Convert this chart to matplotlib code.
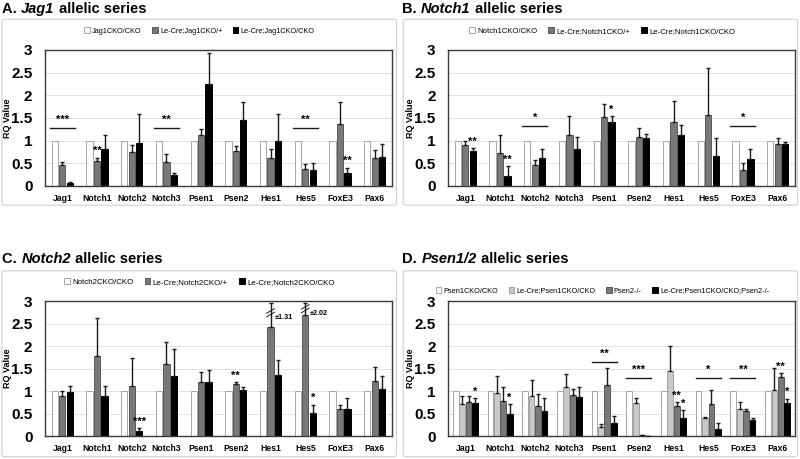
import matplotlib
matplotlib.use("Agg")
from matplotlib import pyplot as plt
from matplotlib.patches import FancyBboxPatch
import numpy as np

plt.rcParams["font.family"] = ["Liberation Sans", "DejaVu Sans"]

genes = ["Jag1", "Notch1", "Notch2", "Notch3", "Psen1", "Psen2", "Hes1", "Hes5", "FoxE3", "Pax6"]
ctrl = [1, 1, 1, 1, 1, 1, 1, 1, 1, 1]

# A. Jag1 allelic series
a_labels = ["Jag1CKO/CKO", "Le-Cre;Jag1CKO/+", "Le-Cre;Jag1CKO/CKO"]
a_het = [0.46, 0.56, 0.76, 0.52, 1.12, 0.78, 0.62, 0.38, 1.37, 0.62]
a_het_err = [0.06, 0.06, 0.15, 0.19, 0.14, 0.11, 0.19, 0.11, 0.48, 0.18]
a_ko = [0.07, 0.81, 0.94, 0.24, 2.26, 1.45, 1.00, 0.35, 0.28, 0.64]
a_ko_err = [0.02, 0.32, 0.64, 0.05, 0.67, 0.41, 0.58, 0.16, 0.12, 0.28]
a_sig = [(0, None, 1.28, "***"), (3, None, 1.28, "**"), (7, None, 1.28, "**"),
         (1, 1, 0.66, "**"), (8, 2, 0.44, "**")]

# B. Notch1 allelic series
b_labels = ["Notch1CKO/CKO", "Le-Cre;Notch1CKO/+", "Le-Cre;Notch1CKO/CKO"]
b_het = [0.91, 0.73, 0.46, 1.12, 1.53, 1.07, 1.42, 1.56, 0.36, 0.93]
b_het_err = [0.09, 0.40, 0.12, 0.43, 0.27, 0.21, 0.46, 1.04, 0.14, 0.13]
b_ko = [0.78, 0.22, 0.62, 0.82, 1.41, 1.05, 1.13, 0.67, 0.59, 0.93]
b_ko_err = [0.05, 0.21, 0.19, 0.27, 0.13, 0.09, 0.22, 0.38, 0.22, 0.05]
b_sig = [(0, 2, 0.86, "**"), (1, 2, 0.46, "**"), (2, None, 1.32, "*"),
         (4, 2, 1.57, "*"), (8, None, 1.32, "*")]

# C. Notch2 allelic series
c_labels = ["Notch2CKO/CKO", "Le-Cre;Notch2CKO/+", "Le-Cre;Notch2CKO/CKO"]
c_het = [0.90, 1.77, 1.12, 1.61, 1.19, 1.16, 2.42, 2.70, 0.60, 1.22]
c_het_err = [0.09, 0.86, 0.61, 0.49, 0.24, 0.04, 1.31, 2.02, 0.10, 0.32]
c_ko = [0.98, 0.88, 0.11, 1.33, 1.20, 1.02, 1.36, 0.52, 0.60, 1.05]
c_ko_err = [0.14, 0.23, 0.07, 0.61, 0.27, 0.08, 0.32, 0.18, 0.24, 0.28]
c_sig = [(2, 2, 0.21, "***"), (5, 1, 1.23, "**"), (7, 2, 0.73, "*")]

# D. Psen1/2 allelic series
d_labels = ["Psen1CKO/CKO", "Le-Cre;Psen1CKO/CKO", "Psen2-/-", "Le-Cre;Psen1CKO/CKO;Psen2-/-"]
d_p1 = [0.72, 0.96, 0.88, 1.10, 0.21, 0.73, 1.44, 0.40, 0.60, 1.02]
d_p1_err = [0.18, 0.38, 0.37, 0.27, 0.05, 0.12, 0.56, 0.02, 0.16, 0.50]
d_p2 = [0.75, 0.78, 0.67, 0.92, 1.13, 0.02, 0.67, 0.72, 0.55, 1.31]
d_p2_err = [0.13, 0.31, 0.27, 0.12, 0.38, 0.00, 0.09, 0.31, 0.05, 0.09]
d_dko = [0.74, 0.50, 0.55, 0.87, 0.30, 0.01, 0.40, 0.16, 0.36, 0.74]
d_dko_err = [0.10, 0.21, 0.29, 0.22, 0.14, 0.00, 0.18, 0.12, 0.05, 0.09]
d_sig = [(0, 3, 0.87, "*"), (1, 3, 0.74, "*"), (4, None, 1.64, "**"), (5, None, 1.28, "***"),
         (6, 2, 0.79, "**"), (6, 3, 0.61, "*"), (7, None, 1.28, "*"), (8, None, 1.28, "**"),
         (9, 2, 1.43, "**"), (9, 3, 0.86, "*")]

fig = plt.figure(figsize=(8, 4.59), dpi=100)

# light frames round each panel
for x0, y0 in [(0.0025, 0.553), (0.504, 0.553), (0.0025, 0.005), (0.504, 0.005)]:
    fig.patches.append(FancyBboxPatch((x0, y0), 0.493, 0.405, boxstyle="round,pad=0,rounding_size=0.004",
                                      transform=fig.transFigure, fc="none", ec="#d0d0d0", lw=0.8))


def make_legend(ax, n, leg_y, width_px, size=7.0):
    # shrink the font until the legend is as wide as in the original
    for _ in range(3):
        leg = ax.legend(loc="center", bbox_to_anchor=(0.445, leg_y), ncol=n, frameon=False,
                        prop={"size": size}, handlelength=0.75, handleheight=0.75,
                        handletextpad=0.3, columnspacing=1.4, borderaxespad=0, borderpad=0)
        fig.canvas.draw()
        w = leg.get_window_extent(fig.canvas.get_renderer()).width
        size = size * width_px / w
    return leg


def panel(rect, labels, series, errs, colors, edges, sigs, leg_y, leg_w, clip=None):
    ax = fig.add_axes(rect)
    x = np.arange(len(genes))
    n = len(series)
    w, step = (0.18, 0.215) if n == 3 else (0.165, 0.185)
    offs = (np.arange(n) - (n - 1) / 2) * step
    for i in range(n):
        ax.bar(x + offs[i], series[i], w, color=colors[i], edgecolor=edges[i], lw=0.7,
               label=labels[i], zorder=2)
        if errs[i] is not None:
            e = np.array(errs[i], dtype=float)
            v = np.array(series[i], dtype=float)
            if clip is not None:
                e = np.minimum(e, clip - v)
            ax.errorbar(x + offs[i], v, yerr=[np.zeros_like(e), e], fmt="none", ecolor="#1a1a1a",
                        elinewidth=1.0, capsize=1.6, capthick=1.0, zorder=3)
    for g, s, y, txt in sigs:
        if s is None:
            ax.plot([g - 0.36, g + 0.36], [y, y], color="#1a1a1a", lw=1.0, zorder=3)
            ax.text(g, y + 0.07, txt, ha="center", va="bottom", fontsize=8, fontweight="bold")
        else:
            ax.text(g + offs[s], y, txt, ha="center", va="bottom", fontsize=8, fontweight="bold")
    ax.set_xlim(-0.5, len(genes) - 0.5)
    ax.set_ylim(0, 3)
    ax.set_yticks([0, 0.5, 1, 1.5, 2, 2.5, 3])
    ax.set_yticklabels(["0", "0.5", "1", "1.5", "2", "2.5", "3"], fontweight="bold")
    ax.set_xticks(x)
    ax.set_xticklabels(genes, fontweight="bold")
    ax.tick_params(length=0)
    ax.tick_params(axis="y", pad=9, labelsize=11)
    ax.tick_params(axis="x", pad=6, labelsize=6.2)
    ax.grid(axis="y", color="#dcdcdc", lw=0.6, zorder=0)
    ax.set_axisbelow(True)
    for sp in ax.spines.values():
        sp.set_color("#3a3a3a")
        sp.set_linewidth(1.0)
    ax.set_ylabel("RQ Value", fontsize=6.5, fontweight="bold")
    ax.yaxis.set_label_coords(-0.095, 0.5)
    make_legend(ax, n, leg_y, leg_w)
    return ax, offs


def title(x, y, letter, gene):
    t = fig.text(x, y, letter + " ", fontsize=10.5, fontweight="bold", va="baseline")
    t2 = fig.text(0, 0, gene, fontsize=10.5, fontweight="bold", style="italic", va="baseline")
    fig.canvas.draw()
    r = fig.canvas.get_renderer()
    bb = t.get_window_extent(r)
    t2.set_position((bb.x1 / fig.bbox.width, y))
    bb2 = t2.get_window_extent(r)
    fig.text(bb2.x1 / fig.bbox.width, y, " allelic series", fontsize=10.5, fontweight="bold", va="baseline")


white, wedge = "#ffffff", "#a6a6a6"
mid, medge = "#787878", "#5a5a5a"
light, ledge = "#c9c9c9", "#a0a0a0"
blk = "#000000"

panel([0.05625, 0.5948, 0.43375, 0.2963], a_labels, [ctrl, a_het, a_ko], [None, a_het_err, a_ko_err],
      [white, mid, blk], [wedge, medge, blk], a_sig, 1.14, 234)
panel([0.56, 0.5948, 0.43375, 0.2963], b_labels, [ctrl, b_het, b_ko], [None, b_het_err, b_ko_err],
      [white, mid, blk], [wedge, medge, blk], b_sig, 1.14, 269)
axc, offc = panel([0.05625, 0.0501, 0.43375, 0.2941], c_labels, [ctrl, c_het, c_ko], [None, c_het_err, c_ko_err],
                  [white, mid, blk], [wedge, medge, blk], c_sig, 1.14, 268, clip=2.95)
panel([0.56, 0.0501, 0.43375, 0.2941], d_labels, [ctrl, d_p1, d_p2, d_dko],
      [None, d_p1_err, d_p2_err, d_dko_err], [white, light, mid, blk], [wedge, ledge, medge, blk], d_sig,
      1.075, 338)

# broken error bars in panel C (SE written beside)
for g in [6, 7]:
    xb = g + offc[1]
    yb = 2.74 if g == 6 else 2.83
    for dy in [-0.04, 0.04]:
        axc.plot([xb - 0.11, xb + 0.11], [yb + dy - 0.05, yb + dy + 0.05], color="#1a1a1a", lw=0.7, zorder=4)
    axc.text(xb + 0.12, yb - 0.1, "\u00b1%.2f" % c_het_err[g], fontsize=5.2, fontweight="bold",
             ha="left", va="center")

title(0.003, 0.971, "A.", "Jag1")
title(0.503, 0.971, "B.", "Notch1")
title(0.003, 0.427, "C.", "Notch2")
title(0.503, 0.427, "D.", "Psen1/2")

fig.savefig("out.png", dpi=100)
